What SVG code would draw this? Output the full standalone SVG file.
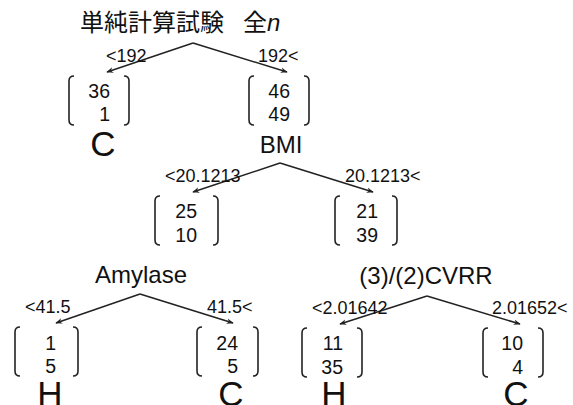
<svg xmlns="http://www.w3.org/2000/svg" width="573" height="405" viewBox="0 0 573 405">
<defs>
<marker id="ah" viewBox="0 0 10 10" refX="9" refY="5" markerWidth="7" markerHeight="7" orient="auto" markerUnits="userSpaceOnUse">
<path d="M0,1 L10,5 L0,9 L3,5 Z" fill="#222"/>
</marker>
<path id="bl" d="M5,0 Q0,0 0,5 L0,44 Q0,49 5,49" fill="none" stroke="#222" stroke-width="1.6"/>
<path id="br" d="M0,0 Q5,0 5,5 L5,44 Q5,49 0,49" fill="none" stroke="#222" stroke-width="1.6"/>
</defs>
<style>
text{font-family:"Liberation Sans",Arial,"Noto Sans CJK JP",sans-serif;fill:#111}
.t{font-size:24px}
.v{font-size:24px;text-anchor:middle}
.c{font-size:18px}
.n{font-size:19.5px;text-anchor:end}
.l{font-size:35px;text-anchor:middle}
.e line{stroke:#222;stroke-width:1.5;marker-end:url(#ah)}
</style>
<rect width="573" height="405" fill="#fff"/>
<g id="root"><text class="t" x="80" y="31">単純計算試験<tspan x="243">全</tspan><tspan font-style="italic">n</tspan></text></g>
<g id="n1"><use href="#bl" x="69" y="76"/><use href="#br" x="124" y="76"/><text class="n" x="110" y="98">36</text><text class="n" x="110" y="121">1</text><text class="l" x="103" y="156">C</text></g>
<g id="n2"><use href="#bl" x="249" y="76"/><use href="#br" x="304" y="76"/><text class="n" x="290" y="98">46</text><text class="n" x="290" y="121">49</text><text class="v" x="281" y="153">BMI</text></g>
<g id="n3"><use href="#bl" x="155" y="196"/><use href="#br" x="213" y="196"/><text class="n" x="197" y="218">25</text><text class="n" x="197" y="242">10</text><text class="v" x="141" y="283">Amylase</text></g>
<g id="n4"><use href="#bl" x="335" y="196"/><use href="#br" x="392" y="196"/><text class="n" x="378" y="218">21</text><text class="n" x="378" y="242">39</text><text class="v" x="426" y="284">(3)/(2)CVRR</text></g>
<g id="n5"><use href="#bl" x="15" y="327"/><use href="#br" x="73" y="327"/><text class="n" x="56" y="350">1</text><text class="n" x="56" y="373">5</text><text class="l" x="50" y="406">H</text></g>
<g id="n6"><use href="#bl" x="197" y="327"/><use href="#br" x="253" y="327"/><text class="n" x="238" y="350">24</text><text class="n" x="238" y="373">5</text><text class="l" x="231" y="406">C</text></g>
<g id="n7"><use href="#bl" x="302" y="328"/><use href="#br" x="357" y="328"/><text class="n" x="343" y="350">11</text><text class="n" x="343" y="374">35</text><text class="l" x="334" y="406">H</text></g>
<g id="n8"><use href="#bl" x="483" y="328"/><use href="#br" x="538" y="328"/><text class="n" x="523" y="350">10</text><text class="n" x="523" y="374">4</text><text class="l" x="516" y="406">C</text></g>
<g id="edges" class="e">
<line x1="193" y1="43" x2="107" y2="72"/><line x1="193" y1="43" x2="287" y2="72"/>
<line x1="280" y1="163" x2="193" y2="192"/><line x1="280" y1="163" x2="373" y2="192"/>
<line x1="140" y1="294" x2="56" y2="323"/><line x1="140" y1="294" x2="233" y2="323"/>
<line x1="427" y1="296" x2="340" y2="324"/><line x1="427" y1="296" x2="520" y2="324"/>
<text class="c" x="106" y="62">&lt;192</text><text class="c" x="258" y="62">192&lt;</text>
<text class="c" x="165" y="182">&lt;20.1213</text><text class="c" x="345" y="182">20.1213&lt;</text>
<text class="c" x="25" y="313">&lt;41.5</text><text class="c" x="207" y="313">41.5&lt;</text>
<text class="c" x="312" y="314">&lt;2.01642</text><text class="c" x="492" y="314">2.01652&lt;</text>
</g>
</svg>
